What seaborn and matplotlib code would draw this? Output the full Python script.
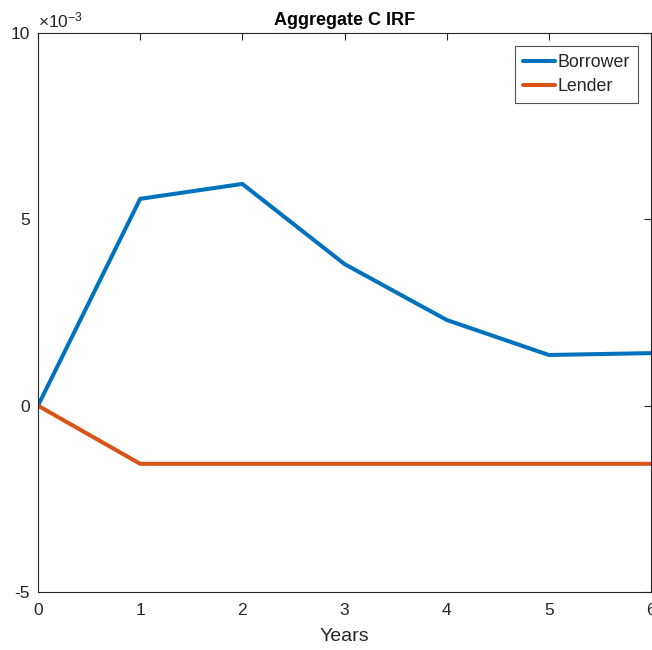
import numpy as np
import pandas as pd
import matplotlib
matplotlib.use("Agg")
import matplotlib.pyplot as plt
import matplotlib.ticker as mticker
import seaborn as sns

years = [0, 1, 2, 3, 4, 5, 6]
borrower = [0.0, 5.55e-3, 5.95e-3, 3.80e-3, 2.30e-3, 1.36e-3, 1.41e-3]
lender = [0.0, -1.56e-3, -1.56e-3, -1.56e-3, -1.56e-3, -1.56e-3, -1.56e-3]
series_names = ["Borrower", "Lender"]
colors = ["#0072BD", "#D95319"]
xticks = [0, 1, 2, 3, 4, 5, 6]
yticks = [-5e-3, 0, 5e-3, 10e-3]

df = pd.DataFrame({
    "Years": years * 2,
    "value": borrower + lender,
    "series": [series_names[0]] * len(years) + [series_names[1]] * len(years),
})

sns.set_theme(style="white")
plt.rcParams['font.family'] = ['Liberation Sans', 'DejaVu Sans']
plt.rcParams['mathtext.fontset'] = 'custom'
plt.rcParams['mathtext.rm'] = 'Liberation Sans'
plt.rcParams['mathtext.it'] = 'Liberation Sans'
plt.rcParams['axes.unicode_minus'] = False

fig = plt.figure(figsize=(6.52, 6.5), dpi=100)
ax = fig.add_axes([38/652, 1 - 592/650, (651 - 38)/652, (592 - 33)/650])

sns.lineplot(data=df, x="Years", y="value", hue="series", palette=colors,
             linewidth=2.9, ax=ax, legend=True)

ax.set_xlim(0, 6)
ax.set_ylim(-5e-3, 10e-3)
ax.set_xticks(xticks)
ax.set_yticks(yticks)
ax.yaxis.set_major_formatter(mticker.FuncFormatter(lambda v, p: f"{v*1e3:g}"))
ax.text(0.0, 1.004, r"$\times10^{-3}$", transform=ax.transAxes, fontsize=12.5,
        color='#262626', ha='left', va='bottom')

ax.set_xlabel("Years", fontsize=14, color='#262626', labelpad=7)
ax.set_ylabel("")
ax.set_title("Aggregate C IRF", fontsize=13, fontweight='bold', color='black', pad=6)

for s in ax.spines.values():
    s.set_color('#262626')
    s.set_linewidth(0.8)
ax.tick_params(direction='in', length=5, width=0.8, top=True, right=True,
               labelsize=12.5, colors='#262626')
ax.tick_params(axis='x', pad=8)
ax.tick_params(axis='y', pad=6)

leg = ax.legend(loc='upper right', fontsize=12.8, frameon=True, fancybox=False,
                edgecolor='#262626', handlelength=1.8, handletextpad=0.15,
                borderpad=0.45, labelspacing=0.4, borderaxespad=0.75)
leg.get_frame().set_linewidth(0.8)
for line in leg.get_lines():
    line.set_linewidth(2.9)

fig.savefig("out.png", dpi=100)
